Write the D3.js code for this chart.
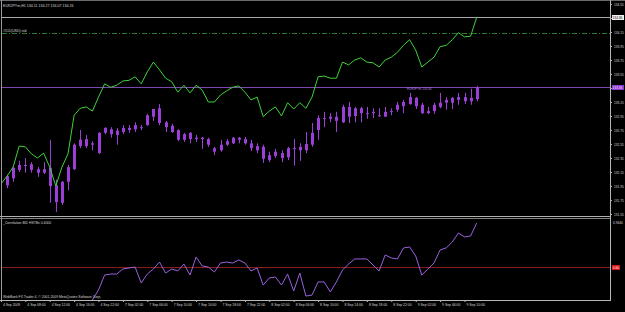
<!DOCTYPE html>
<html>
<head>
<meta charset="utf-8">
<script src="https://cdn.jsdelivr.net/npm/d3@7"></script>
<style>
    html, body { margin: 0; padding: 0; background: #000; }
    svg { display: block; }
    text { font-family: 'Liberation Sans', Arial, sans-serif; }
</style>
</head>
<body>
<svg width="625" height="312"></svg>
<script>
/* global d3 */
// H1 bars, index 0..77 (bar -1 only carries the overlay line)
const opens = [131.96, 132.06, 132.18, 132.25, 132.26, 132.19, 132.14, 132.21, 131.96, 131.71,
    132.01, 132.19, 132.52, 132.62, 132.54, 132.42, 132.71, 132.76, 132.74, 132.72,
    132.75, 132.76, 132.79, 132.82, 132.94, 133.06, 132.86, 132.81, 132.75, 132.61,
    132.71, 132.62, 132.64, 132.62, 132.49, 132.46, 132.54, 132.56, 132.64, 132.62,
    132.56, 132.52, 132.51, 132.32, 132.38, 132.42, 132.36, 132.49, 132.46, 132.46,
    132.54, 132.75, 132.91, 132.91, 132.94, 132.86, 133.08, 132.95, 133.06, 132.99,
    132.99, 132.96, 132.94, 133.01, 133.04, 133.09, 133.12, 133.21, 133.11, 132.99,
    133.02, 133.08, 133.14, 133.14, 133.18, 133.22, 133.16, 133.19];
const highs = [132.11, 132.22, 132.31, 132.35, 132.29, 132.22, 132.29, 132.61, 132.04, 132.02,
    132.25, 132.56, 132.75, 132.68, 132.59, 132.72, 132.79, 132.79, 132.78, 132.82,
    132.82, 132.86, 132.82, 132.98, 133.05, 133.12, 132.88, 132.84, 132.76, 132.71,
    132.72, 132.68, 132.65, 132.64, 132.51, 132.61, 132.62, 132.65, 132.65, 132.65,
    132.61, 132.56, 132.54, 132.44, 132.48, 132.46, 132.51, 132.62, 132.56, 132.72,
    132.85, 132.96, 133.01, 132.99, 133.01, 133.11, 133.15, 133.08, 133.08, 133.08,
    133.06, 133.06, 133.08, 133.06, 133.15, 133.18, 133.28, 133.22, 133.14, 133.08,
    133.14, 133.28, 133.22, 133.22, 133.28, 133.28, 133.34, 133.38];
const lows = [131.92, 132.01, 132.15, 132.14, 132.14, 132.08, 132.12, 131.71, 131.58, 131.68,
    131.89, 132.18, 132.49, 132.49, 132.46, 132.41, 132.69, 132.64, 132.54, 132.69,
    132.71, 132.72, 132.75, 132.81, 132.88, 132.82, 132.72, 132.71, 132.59, 132.58,
    132.56, 132.58, 132.48, 132.51, 132.39, 132.44, 132.52, 132.55, 132.56, 132.54,
    132.45, 132.42, 132.28, 132.29, 132.35, 132.29, 132.32, 132.24, 132.31, 132.42,
    132.51, 132.61, 132.79, 132.86, 132.72, 132.85, 132.85, 132.86, 132.86, 132.91,
    132.92, 132.94, 132.94, 132.96, 133.01, 132.99, 133.11, 133.05, 132.98, 132.98,
    132.98, 133.06, 133.04, 133.05, 133.11, 133.12, 133.11, 133.16];
const closes = [132.09, 132.21, 132.25, 132.24, 132.18, 132.14, 132.19, 131.95, 131.72, 132.01,
    132.22, 132.54, 132.61, 132.52, 132.56, 132.71, 132.78, 132.69, 132.68, 132.78,
    132.78, 132.82, 132.78, 132.96, 133.05, 132.85, 132.79, 132.72, 132.61, 132.69,
    132.62, 132.64, 132.62, 132.54, 132.44, 132.54, 132.59, 132.64, 132.61, 132.56,
    132.49, 132.46, 132.34, 132.39, 132.44, 132.35, 132.49, 132.48, 132.51, 132.55,
    132.71, 132.92, 132.92, 132.94, 132.88, 133.08, 132.94, 133.06, 132.99, 132.98,
    133.01, 132.95, 133.01, 133.02, 133.11, 133.15, 133.22, 133.09, 132.99, 133.02,
    133.11, 133.14, 133.18, 133.21, 133.22, 133.16, 133.21, 133.36];

// overlay symbol, bars -1..77, read on the price axis
const overlayLine = [131.98, 132.09, 132.22, 132.52, 132.51, 132.41, 132.35, 132.42, 132.22, 131.95,
    132.22, 132.41, 132.96, 133.06, 133.08, 133.02, 133.22, 133.41, 133.36, 133.39,
    133.45, 133.46, 133.51, 133.41, 133.58, 133.72, 133.61, 133.49, 133.44, 133.29,
    133.39, 133.28, 133.39, 133.32, 133.15, 133.15, 133.25, 133.31, 133.36, 133.38,
    133.29, 133.18, 133.22, 132.94, 133.02, 133.08, 132.95, 133.14, 133.05, 133.14,
    133.06, 133.22, 133.51, 133.52, 133.49, 133.49, 133.72, 133.68, 133.75, 133.78,
    133.72, 133.71, 133.65, 133.75, 133.79, 133.86, 133.96, 134.04, 133.89, 133.65,
    133.72, 133.79, 133.94, 133.96, 134.04, 134.14, 134.08, 134.09, 134.36];

// correlation indicator, bars 14..77
const correlation = [0.333, 0.414, 0.535, 0.543, 0.543, 0.584, 0.592, 0.600, 0.471, 0.543,
    0.584, 0.640, 0.551, 0.584, 0.568, 0.624, 0.535, 0.681, 0.608, 0.600,
    0.560, 0.632, 0.640, 0.632, 0.657, 0.632, 0.568, 0.592, 0.454, 0.511,
    0.519, 0.454, 0.543, 0.406, 0.551, 0.365, 0.373, 0.479, 0.479, 0.398,
    0.479, 0.576, 0.624, 0.665, 0.665, 0.665, 0.616, 0.568, 0.697, 0.673,
    0.665, 0.754, 0.762, 0.689, 0.535, 0.584, 0.632, 0.738, 0.754, 0.802,
    0.875, 0.843, 0.851, 0.956];
const correlationFirstBar = 14;

const priceTicks = [134.55, 134.35, 134.15, 133.95, 133.75, 133.55, 133.35, 133.15,
    132.95, 132.75, 132.55, 132.35, 132.15, 131.95, 131.75, 131.55];
const overlayLevel = 134.14;
const correlationLevel = 0.6;
const correlationTop = 0.964;

const timeLabels = ['4 Sep 2009', '4 Sep 08:00', '4 Sep 12:00', '4 Sep 16:00', '4 Sep 22:00',
    '7 Sep 02:00', '7 Sep 06:00', '7 Sep 10:00', '7 Sep 14:00', '7 Sep 18:00', '7 Sep 22:00',
    '8 Sep 02:00', '8 Sep 06:00', '8 Sep 10:00', '8 Sep 14:00', '8 Sep 18:00', '8 Sep 22:00',
    '9 Sep 02:00', '9 Sep 06:00', '9 Sep 10:00'];
const timeLabelBars = [-1, 3, 7, 11, 15, 19, 23, 27, 31, 35, 39, 43, 47, 51, 55, 59, 63, 67, 71, 75];

const svg = d3.select('svg');
const plotRight = 610;
const main = {top: 2, bottom: 216};
const sub = {top: 219, bottom: 300};

const candleColor = '#9c3fd8';
const overlayColor = '#3fd23a';
const textColor = '#d8d8d8';

const x = d3.scaleLinear().domain([-1, 77]).range([0.9, 476.7]);
const y = d3.scaleLinear().domain([131.55, 134.55]).range([214, 4]);
const yc = d3.scaleLinear().domain([correlationLevel, correlationTop]).range([267, 222]);

svg.append('rect').attr('width', 625).attr('height', 312).attr('fill', '#000');

const defs = svg.append('defs');
defs.append('clipPath').attr('id', 'clipMain').append('rect')
    .attr('x', 2).attr('y', main.top).attr('width', plotRight - 2).attr('height', main.bottom - main.top);
defs.append('clipPath').attr('id', 'clipSub').append('rect')
    .attr('x', 2).attr('y', sub.top).attr('width', plotRight - 2).attr('height', sub.bottom - sub.top);

// frame
const frame = svg.append('g').attr('stroke', '#9a9a9a').attr('stroke-width', 1);
frame.append('line').attr('x1', 0).attr('x2', 625).attr('y1', 0.5).attr('y2', 0.5).attr('stroke', '#6a6a6a');
frame.append('line').attr('x1', 1.5).attr('x2', 1.5).attr('y1', 0).attr('y2', 300);
frame.append('line').attr('x1', 0).attr('x2', plotRight).attr('y1', 216.5).attr('y2', 216.5).attr('stroke', '#b0b0b0');
frame.append('line').attr('x1', 0).attr('x2', plotRight).attr('y1', 218.5).attr('y2', 218.5).attr('stroke', '#808080');

const mainG = svg.append('g').attr('clip-path', 'url(#clipMain)');

// level lines
mainG.append('line')
    .attr('x1', 2).attr('x2', plotRight)
    .attr('y1', Math.round(y(overlayLine[overlayLine.length - 1])) + 0.5)
    .attr('y2', Math.round(y(overlayLine[overlayLine.length - 1])) + 0.5)
    .attr('stroke', '#a8a8a8');
mainG.append('line')
    .attr('x1', 2).attr('x2', plotRight)
    .attr('y1', Math.round(y(overlayLevel)) + 0.5)
    .attr('y2', Math.round(y(overlayLevel)) + 0.5)
    .attr('stroke', '#2f7a2f')
    .attr('stroke-dasharray', '5,2,1,2');
mainG.append('line')
    .attr('x1', 2).attr('x2', plotRight)
    .attr('y1', Math.round(y(closes[closes.length - 1])) + 0.5)
    .attr('y2', Math.round(y(closes[closes.length - 1])) + 0.5)
    .attr('stroke', '#7d46b0');

// candles
const candles = mainG.append('g')
    .selectAll('g')
    .data(opens.map(function (o, i) {
        return {i: i, o: o, h: highs[i], l: lows[i], c: closes[i]};
    }))
    .enter().append('g');

candles.append('line')
    .attr('x1', function (d) { return Math.round(x(d.i)) + 0.5; })
    .attr('x2', function (d) { return Math.round(x(d.i)) + 0.5; })
    .attr('y1', function (d) { return y(d.h); })
    .attr('y2', function (d) { return y(d.l); })
    .attr('stroke', candleColor);

candles.append('rect')
    .attr('x', function (d) { return Math.round(x(d.i)) - 1; })
    .attr('width', 3)
    .attr('y', function (d) { return y(Math.max(d.o, d.c)); })
    .attr('height', function (d) { return Math.max(1, Math.abs(y(d.o) - y(d.c))); })
    .attr('fill', candleColor);

// overlay line
const overlayPath = d3.line()
    .x(function (d, i) { return x(i - 1); })
    .y(function (d) { return y(d); });
mainG.append('path')
    .datum(overlayLine)
    .attr('d', overlayPath)
    .attr('fill', 'none')
    .attr('stroke', overlayColor)
    .attr('stroke-width', 1);

svg.append('text').attr('x', 3).attr('y', 7)
    .attr('font-size', 3.6).attr('fill', textColor)
    .text('EURJPYm,H1  134.11 134.27 134.07 134.26');
svg.append('text').attr('x', 3).attr('y', 32)
    .attr('font-size', 3.6).attr('fill', textColor)
    .text('#511(USD).std');
svg.append('text').attr('x', 407).attr('y', 90)
    .attr('font-size', 3).attr('fill', '#b77ae0')
    .text('EURJPYm  133.36');

// right price axis
const yAxis = svg.append('g')
    .attr('transform', 'translate(' + plotRight + ',0)')
    .call(d3.axisRight(y).tickValues(priceTicks).tickSize(2).tickPadding(2).tickFormat(d3.format('.2f')));
yAxis.select('.domain').remove();
yAxis.selectAll('line').attr('stroke', '#b0b0b0');
yAxis.selectAll('text').attr('font-size', 3.2).attr('fill', textColor).attr('font-family', null);
yAxis.selectAll('.tick').filter(function (d) {
    return Math.abs(y(d) - y(overlayLine[overlayLine.length - 1])) < 5 ||
        Math.abs(y(d) - y(closes[closes.length - 1])) < 5;
}).select('text').remove();

function priceBox(value, fill, color, label) {
    const yy = Math.round(y(value)) + 0.5;
    svg.append('rect').attr('x', 612).attr('y', yy - 2.5).attr('width', 12).attr('height', 5).attr('fill', fill);
    svg.append('text').attr('x', 612.6).attr('y', yy + 1.3).attr('font-size', 3.2).attr('fill', color).text(label);
}
priceBox(overlayLine[overlayLine.length - 1], '#f0f0f0', '#000', d3.format('.2f')(overlayLine[overlayLine.length - 1]));
priceBox(closes[closes.length - 1], '#8e3ad0', '#f0e0ff', d3.format('.2f')(closes[closes.length - 1]));

// lower panel
const subG = svg.append('g').attr('clip-path', 'url(#clipSub)');
subG.append('line')
    .attr('x1', 2).attr('x2', plotRight)
    .attr('y1', Math.round(yc(correlationLevel)) + 0.5)
    .attr('y2', Math.round(yc(correlationLevel)) + 0.5)
    .attr('stroke', '#8a1c1c');

const corrPath = d3.line()
    .x(function (d, i) { return x(i + correlationFirstBar); })
    .y(function (d) { return yc(d); });
subG.append('path')
    .datum(correlation)
    .attr('d', corrPath)
    .attr('fill', 'none')
    .attr('stroke', '#9a62e0')
    .attr('stroke-width', 1);

svg.append('text').attr('x', 3).attr('y', 223.5)
    .attr('font-size', 3.4).attr('fill', textColor)
    .text('_Correlation BID HSTBx 0.4000');
svg.append('text').attr('x', 3).attr('y', 298)
    .attr('font-size', 3.4).attr('fill', textColor)
    .text('WebBank FX Trader 4, \u00a9 2001-2009 MetaQuotes Software Corp.');

svg.append('text').attr('x', 613).attr('y', 223.5)
    .attr('font-size', 3.2).attr('fill', textColor)
    .text(d3.format('.4f')(correlationTop));
svg.append('rect').attr('x', 612).attr('y', yc(correlationLevel) - 2).attr('width', 8).attr('height', 5).attr('fill', '#d81010');
svg.append('text').attr('x', 612.8).attr('y', yc(correlationLevel) + 1.8)
    .attr('font-size', 3.2).attr('fill', '#fff')
    .text(d3.format('.2f')(correlationLevel));

// right axis separator and time axis
svg.append('line').attr('x1', plotRight + 0.5).attr('x2', plotRight + 0.5).attr('y1', 0).attr('y2', 301)
    .attr('stroke', '#b8b8b8');

const xAxis = svg.append('g')
    .attr('transform', 'translate(0,' + sub.bottom + ')')
    .call(d3.axisBottom(x).tickValues(timeLabelBars).tickSize(2).tickPadding(2)
        .tickFormat(function (d, i) { return timeLabels[i]; }));
xAxis.select('.domain').attr('stroke', '#b8b8b8').attr('d', 'M0,0.5H' + (plotRight + 1));
xAxis.selectAll('line').attr('stroke', '#b8b8b8');
xAxis.selectAll('text')
    .attr('font-size', 3.4)
    .attr('fill', textColor)
    .attr('font-family', null)
    .attr('text-anchor', 'start')
    .attr('x', 1.5);
</script>
</body>
</html>
